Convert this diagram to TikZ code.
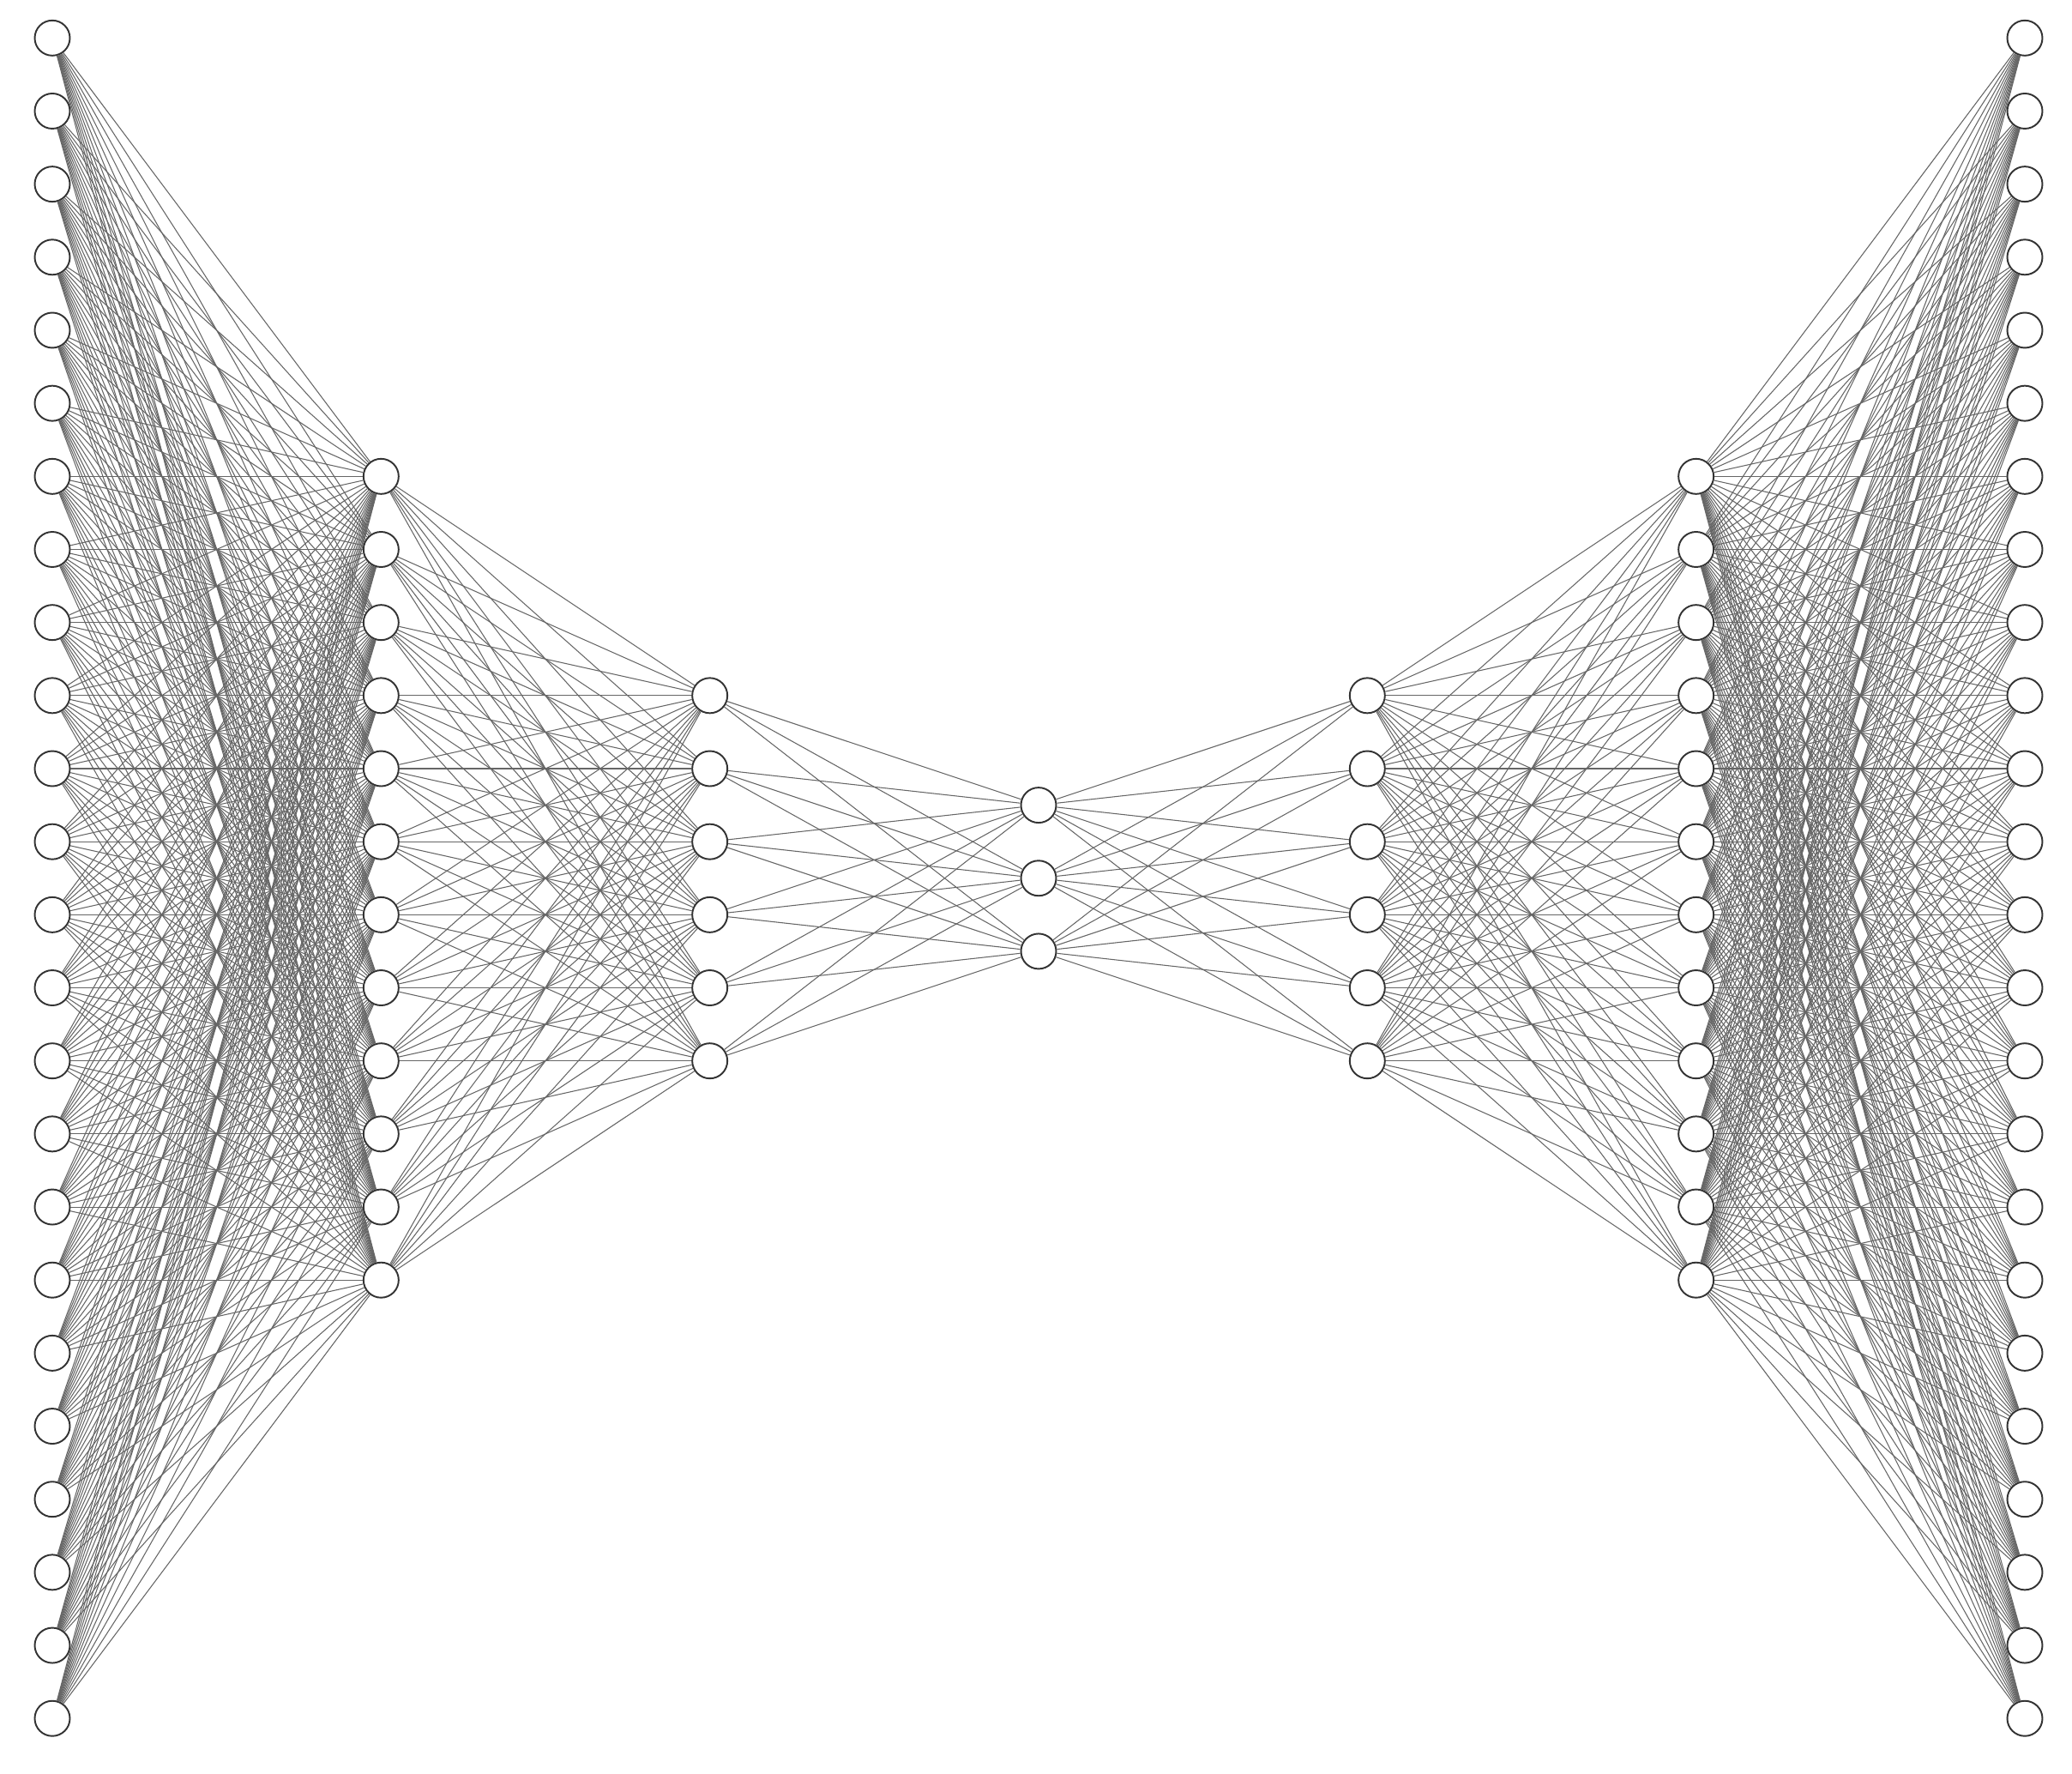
\documentclass[tikz,border=0pt]{standalone}
\begin{document}
\begin{tikzpicture}[
    neuron/.style={circle, draw=black!80, fill=white, line width=0.55pt, minimum size=0.41cm, inner sep=0pt},
    synapse/.style={draw=black!60, line width=0.3pt}
]
    \useasboundingbox (0, 0) rectangle (24.16, 20.68);
    % layers of neurons
    \foreach \l/\n in {1/24, 2/12, 3/6, 4/3, 5/6, 6/12, 7/24} {
        \foreach \i in {1,...,\n} {
            \node[neuron] (n\l-\i) at ({0.61 + (\l - 1) * 3.8333}, {10.442 + ((\n + 1) / 2 - \i) * 0.8517}) {};
        }
    }
    % connections between consecutive layers
    \foreach \l/\n/\m in {1/24/12, 2/12/6, 3/6/3, 4/3/6, 5/6/12, 6/12/24} {
        \pgfmathtruncatemacro\k{\l + 1}
        \foreach \i in {1,...,\n} {
            \foreach \j in {1,...,\m} {
                \draw[synapse] (n\l-\i) -- (n\k-\j);
            }
        }
    }
\end{tikzpicture}
\end{document}
